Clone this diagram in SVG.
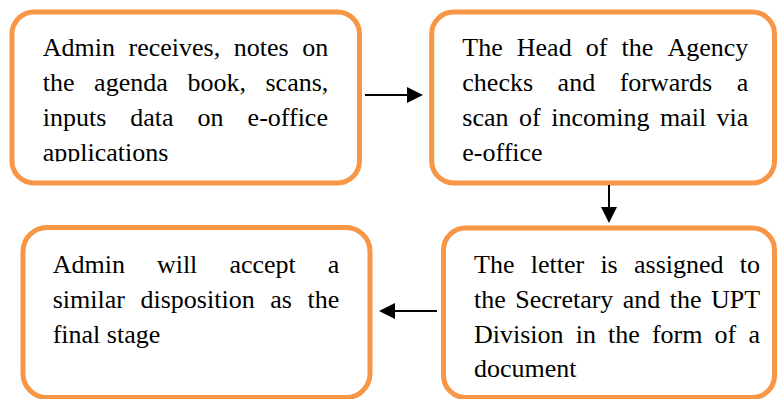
<svg xmlns="http://www.w3.org/2000/svg" width="777" height="399" viewBox="0 0 777 399">
  <style>
    .box { fill: #ffffff; stroke: #F79646; stroke-width: 5; }
    .txt { font-family: "Liberation Serif", "Times New Roman", serif; font-size: 26px; fill: #000000; }
    .link { stroke: #000000; stroke-width: 2; fill: none; marker-end: url(#arrow); }
  </style>
  <defs>
    <marker id="arrow" markerUnits="userSpaceOnUse" markerWidth="16" markerHeight="16" refX="0" refY="8" orient="auto">
      <path d="M0,0 L16,8 L0,16 z" fill="#000000"/>
    </marker>
    <clipPath id="clip-last">
      <rect x="0" y="0" width="777" height="161.5"/>
    </clipPath>
  </defs>
  <rect width="777" height="399" fill="#ffffff"/>

  <!-- Step 1: admin receives incoming mail -->
  <g id="step-receive">
    <rect class="box" x="12" y="12" width="347.5" height="171" rx="22" ry="22"/>
    <text class="txt" y="55.5"><tspan x="42.7">Admin</tspan><tspan x="128.5">receives,</tspan><tspan x="233.8">notes</tspan><tspan x="302.3">on</tspan></text>
    <text class="txt" y="90.5"><tspan x="42.7">the</tspan><tspan x="94.1">agenda</tspan><tspan x="187.4">book,</tspan><tspan x="265.5">scans,</tspan></text>
    <text class="txt" y="125.5"><tspan x="42.7">inputs</tspan><tspan x="130.3">data</tspan><tspan x="197.6">on</tspan><tspan x="247.6">e-office</tspan></text>
    <text class="txt" x="42.7" y="160.5" clip-path="url(#clip-last)">applications</text>
  </g>

  <!-- Step 2: head of agency forwards the scan -->
  <g id="step-forward">
    <rect class="box" x="431.7" y="12" width="342.8" height="171" rx="22" ry="22"/>
    <text class="txt" y="55.5"><tspan x="462.3">The</tspan><tspan x="516.8">Head</tspan><tspan x="585.8">of</tspan><tspan x="621.6">the</tspan><tspan x="667.5">Agency</tspan></text>
    <text class="txt" y="90.5"><tspan x="462.3">checks</tspan><tspan x="557.6">and</tspan><tspan x="619.7">forwards</tspan><tspan x="736.8">a</tspan></text>
    <text class="txt" y="125.7"><tspan x="462.3">scan</tspan><tspan x="519.0">of</tspan><tspan x="551.2">incoming</tspan><tspan x="659.9">mail</tspan><tspan x="716.6">via</tspan></text>
    <text class="txt" x="462.3" y="161">e-office</text>
  </g>

  <!-- Step 3: letter assigned as a document -->
  <g id="step-assign">
    <rect class="box" x="443.5" y="228" width="331" height="169.5" rx="22" ry="22"/>
    <text class="txt" y="272.7"><tspan x="474">The</tspan><tspan x="530.7">letter</tspan><tspan x="600.4">is</tspan><tspan x="634.0">assigned</tspan><tspan x="739.8">to</tspan></text>
    <text class="txt" y="307.7"><tspan x="474">the</tspan><tspan x="515.2">Secretary</tspan><tspan x="622.8">and</tspan><tspan x="669.7">the</tspan><tspan x="710.9">UPT</tspan></text>
    <text class="txt" y="342.7"><tspan x="474">Division</tspan><tspan x="575.7">in</tspan><tspan x="608.0">the</tspan><tspan x="651.9">form</tspan><tspan x="714.6">of</tspan><tspan x="748.4">a</tspan></text>
    <text class="txt" x="474" y="377">document</text>
  </g>

  <!-- Step 4: final disposition -->
  <g id="step-final">
    <rect class="box" x="23" y="227.5" width="347" height="170" rx="24" ry="24"/>
    <text class="txt" y="272.7"><tspan x="52.7">Admin</tspan><tspan x="156.9">will</tspan><tspan x="229.4">accept</tspan><tspan x="327.8">a</tspan></text>
    <text class="txt" y="308"><tspan x="52.7">similar</tspan><tspan x="140.5">disposition</tspan><tspan x="270.2">as</tspan><tspan x="307.5">the</tspan></text>
    <text class="txt" x="52.7" y="343.3">final stage</text>
  </g>

  <!-- Flow connectors -->
  <g id="connectors">
    <line class="link" x1="365" y1="95" x2="407" y2="95"/>
    <line class="link" x1="609" y1="185" x2="609" y2="207"/>
    <line class="link" x1="437" y1="311" x2="395" y2="311"/>
  </g>
</svg>
